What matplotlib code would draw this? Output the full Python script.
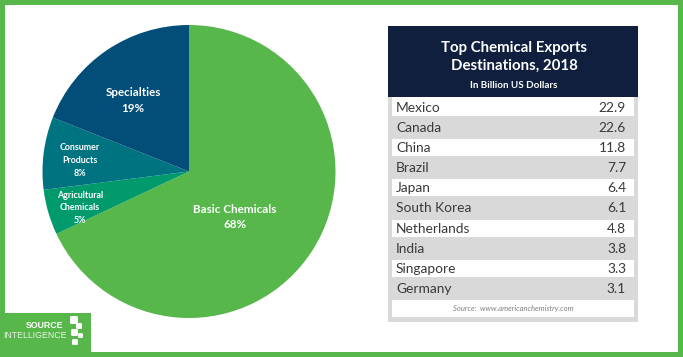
import matplotlib
matplotlib.use("Agg")
import matplotlib.pyplot as plt
from matplotlib.patches import Rectangle, FancyBboxPatch

# ---- data ----
segments = ["Basic Chemicals", "Agricultural\nChemicals", "Consumer\nProducts", "Specialties"]
shares = [68, 5, 8, 19]
countries = ["Mexico", "Canada", "China", "Brazil", "Japan", "South Korea",
             "Netherlands", "India", "Singapore", "Germany"]
exports = [22.9, 22.6, 11.8, 7.7, 6.4, 6.1, 4.8, 3.8, 3.3, 3.1]
title = "Top Chemical Exports\nDestinations, 2018"
subtitle = "In Billion US Dollars"
source = "Source:  www.americanchemistry.com"

W, H = 683, 357
GREEN = "#57b74b"
pie_colors = ["#57b74b", "#009a6c", "#007380", "#034d79"]

plt.rcParams['font.family'] = ['Lato', 'DejaVu Sans']

fig = plt.figure(figsize=(W / 100, H / 100), dpi=100)
fig.patch.set_facecolor(GREEN)

# background axes (pixel coords)
bg = fig.add_axes([0, 0, 1, 1])
bg.set_xlim(0, W); bg.set_ylim(H, 0); bg.axis("off")
bg.add_patch(Rectangle((5, 5), W - 10, H - 10, facecolor="white", edgecolor="none"))

# table
hx0, hx1 = 388, 638
bg.add_patch(Rectangle((hx0, 26), hx1 - hx0, 71, facecolor="#0f1f3d", edgecolor="none"))
bg.add_patch(Rectangle((hx0, 97), hx1 - hx0, 225, facecolor="#d9d9d9", edgecolor="none"))
row0, rstep = 107.5, 20.1
nrows = len(countries) + 1
for i in range(nrows):
    yc = row0 + i * rstep
    if i % 2 == 0:
        top = 97 if i == 0 else yc - 8.5
        bg.add_patch(Rectangle((392, top), 634 - 392, yc + 8.5 - top,
                               facecolor="white", edgecolor="none"))
for i, (c, v) in enumerate(zip(countries, exports)):
    yc = row0 + i * rstep
    bg.text(396, yc + 0.5, c, fontsize=9.9, color="#3a3a3a", va="center", ha="left")
    bg.text(626, yc + 0.5, f"{v:.1f}", fontsize=9.9, color="#3a3a3a", va="center", ha="right")
bg.text(513, row0 + len(countries) * rstep, source, fontsize=5.5, style="italic",
        color="#808080", va="center", ha="center")
bg.text(514, 57, title, fontsize=10.8, fontweight="bold", color="white",
        ha="center", va="center", linespacing=1.35)
bg.text(514, 86, subtitle, fontsize=7.1, fontweight="bold", color="white",
        ha="center", va="center")

# logo
bg.add_patch(Rectangle((0, 313), 91, H - 313, facecolor=GREEN, edgecolor="none"))
bg.text(63, 326, "SOURCE", fontsize=6.3, fontweight="bold", color="white",
        ha="right", va="center", family="Liberation Sans")
bg.text(67, 335.5, "INTELLIGENCE", fontsize=6.3, color="#e8f5e5",
        ha="right", va="center", family="Liberation Sans")
for (x, y, s) in [(70, 316, 8), (76, 323, 6), (71, 329, 7), (78, 333, 5), (72, 339, 6)]:
    bg.add_patch(FancyBboxPatch((x, y), s, s, boxstyle="round,pad=0,rounding_size=1.5",
                                facecolor="white", edgecolor="none"))

# pie
cx, cy, r = 189, 171.5, 146.5
pax = fig.add_axes([(cx - r) / W, (H - cy - r) / H, 2 * r / W, 2 * r / H])
pax.pie(shares, colors=pie_colors, startangle=90, counterclock=False,
        wedgeprops=dict(linewidth=0))
pax.set_xlim(-1, 1); pax.set_ylim(-1, 1)
pax.axis("off")

# pie labels
top = fig.add_axes([0, 0, 1, 1])
top.set_xlim(0, W); top.set_ylim(H, 0); top.axis("off"); top.patch.set_alpha(0)
label_pos = [(235, 217, 8.4), (80, 208, 6.4), (80, 160.5, 6.4), (133, 100.5, 8.4)]
for name, pct, (x, y, fs) in zip(segments, shares, label_pos):
    top.text(x, y, f"{name}\n{pct}%", fontsize=fs, fontweight="bold", color="white",
             ha="center", va="center", linespacing=1.5)

fig.savefig("out.png", dpi=100, facecolor=fig.get_facecolor())
